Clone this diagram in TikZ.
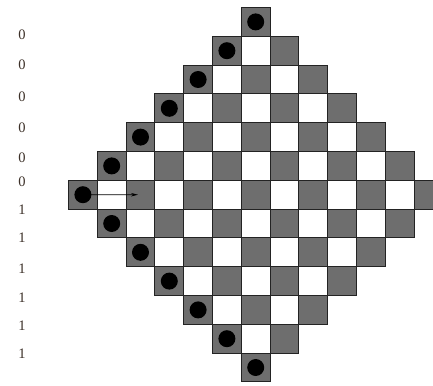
\documentclass[tikz,border=0pt]{standalone}
\usepackage{fontspec}
\setmainfont{Liberation Serif}
\usetikzlibrary{arrows.meta}
\definecolor{cellgray}{RGB}{110,110,110}
\definecolor{edgegray}{RGB}{35,35,35}
\definecolor{labelbrown}{RGB}{60,48,40}
\tikzset{
  cell/.style={rectangle, draw=edgegray, line width=1pt, minimum size=28.8pt, inner sep=0pt, outer sep=0pt, fill=#1},
  dot/.style={circle, fill=black, minimum size=17pt, inner sep=0pt},
  lbl/.style={font=\fontsize{14.5}{14.5}\selectfont, text=labelbrown, inner sep=0pt},
  arrowline/.style={draw=black, line width=0.8pt, -{Stealth[length=7pt,width=3.5pt]}},
}
\begin{document}
\begin{tikzpicture}[x=1pt,y=-1pt]
\useasboundingbox (0,0) rectangle (433,385);
\clip (0,0) rectangle (433,385);
\foreach \j in {0,...,12}{
  \foreach \i in {0,...,12}{
    \pgfmathtruncatemacro{\d}{abs(\i-6)+abs(\j-6)}
    \pgfmathtruncatemacro{\p}{mod(\i+\j,2)}
    \ifnum\d<7
      \ifnum\p=0 \def\fc{cellgray}\else\def\fc{white}\fi
      \node[cell=\fc] (c-\i-\j) at ({68.5+(\i+0.5)*28.8},{7.5+(\j+0.5)*28.8}) {};
    \fi
  }
}
\foreach \i/\j in {6/0,5/1,4/2,3/3,2/4,1/5,0/6,1/7,2/8,3/9,4/10,5/11,6/12}{
  \node[dot] (d-\i-\j) at (c-\i-\j) {};
}
\coordinate (tip) at (138,194.7);
\draw[arrowline] (d-0-6.center) -- (tip);
\foreach \n/\y/\t in {1/35/0,2/65/0,3/97/0,4/128/0,5/158/0,6/182/0,7/210/1,8/238/1,9/269/1,10/298/1,11/326/1,12/354/1}{
  \node[lbl] (l\n) at (22,\y) {\t};
}
\end{tikzpicture}
\end{document}
